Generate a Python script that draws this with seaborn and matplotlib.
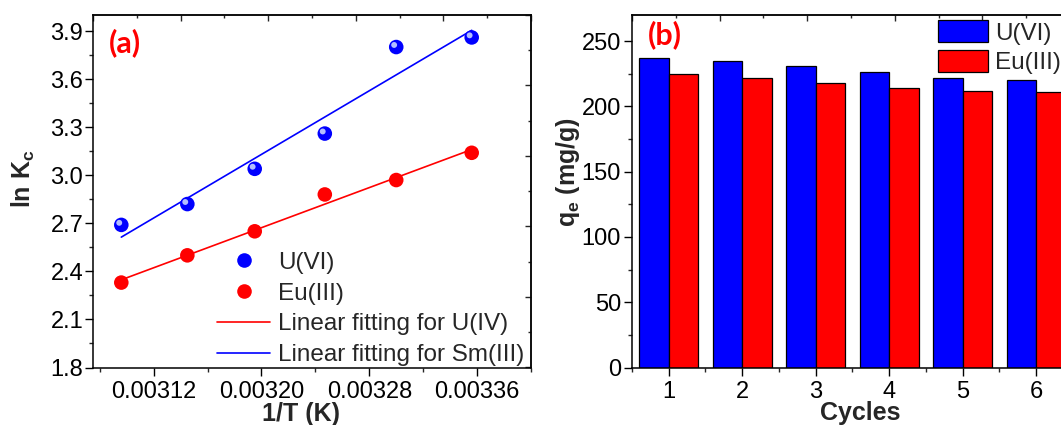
import numpy as np
import pandas as pd
import matplotlib
matplotlib.use("Agg")
import matplotlib.pyplot as plt
import seaborn as sns
from matplotlib.ticker import MultipleLocator, FixedLocator, FormatStrFormatter, NullFormatter
from matplotlib.lines import Line2D
from matplotlib.transforms import offset_copy

# ---------------- data ----------------
inv_T = [0.003096, 0.003145, 0.003195, 0.003247, 0.003300, 0.003356]
lnKc_U = [2.69, 2.82, 3.04, 3.26, 3.80, 3.86]
lnKc_Eu = [2.33, 2.50, 2.65, 2.88, 2.97, 3.14]

cycles = ["1", "2", "3", "4", "5", "6"]
qe_U = [237, 235, 231, 226, 222, 220]
qe_Eu = [225, 222, 218, 214, 212, 211]

series_names = ["U(VI)", "Eu(III)"]
fit_names = ["Linear fitting for U(IV)", "Linear fitting for Sm(III)"]
x_ticks_a = [0.00312, 0.00320, 0.00328, 0.00336]
y_ticks_a = [1.8, 2.1, 2.4, 2.7, 3.0, 3.3, 3.6, 3.9]
y_ticks_b = [0, 50, 100, 150, 200, 250]

BLUE = "#0000FF"
RED = "#FF0000"

# ---------------- style ----------------
sns.set_theme(style="ticks")
plt.rcParams["font.family"] = ["Liberation Sans", "DejaVu Sans"]
plt.rcParams["mathtext.fontset"] = "custom"
plt.rcParams["mathtext.rm"] = "Liberation Sans"
plt.rcParams["mathtext.bf"] = "Liberation Sans:bold"
plt.rcParams["axes.linewidth"] = 1.1

TICK_FS = 17
LAB_FS = 18
LEG_FS = 17.5

fig = plt.figure(figsize=(10.61, 4.25), dpi=100)
ax_a = fig.add_axes([93 / 1061, 57.5 / 425, 438 / 1061, 352.5 / 425])
ax_b = fig.add_axes([632 / 1061, 57.5 / 425, 438 / 1061, 352.5 / 425])

# ---------------- panel (a) ----------------
df_a = pd.DataFrame({
    "x": inv_T * 2,
    "y": lnKc_U + lnKc_Eu,
    "ion": [series_names[0]] * len(inv_T) + [series_names[1]] * len(inv_T),
})

sns.regplot(x=inv_T, y=lnKc_Eu, ax=ax_a, scatter=False, ci=None,
            line_kws=dict(color=RED, lw=1.2))
sns.regplot(x=inv_T, y=lnKc_U, ax=ax_a, scatter=False, ci=None,
            line_kws=dict(color=BLUE, lw=1.2))
sns.scatterplot(data=df_a, x="x", y="y", hue="ion", palette=[BLUE, RED],
                s=110, edgecolor="none", ax=ax_a, legend=False, zorder=3)
# sphere highlight on the U(VI) markers
hl = offset_copy(ax_a.transData, fig=fig, x=-1.5, y=1.5, units="points")
ax_a.scatter(inv_T, lnKc_U, s=18, color="#c8d4ff", edgecolor="none",
             transform=hl, zorder=4, alpha=0.9)

ax_a.set_xlim(0.003075, 0.0034)
ax_a.set_ylim(1.8, 4.0)
ax_a.xaxis.set_major_locator(FixedLocator(x_ticks_a))
ax_a.xaxis.set_minor_locator(MultipleLocator(0.00004))
ax_a.xaxis.set_major_formatter(FormatStrFormatter("%.5f"))
ax_a.yaxis.set_major_locator(FixedLocator(y_ticks_a))
ax_a.yaxis.set_minor_locator(MultipleLocator(0.15))
ax_a.yaxis.set_major_formatter(FormatStrFormatter("%.1f"))
ax_a.tick_params(axis="both", which="major", direction="out", length=5.5, width=1.0,
                 labelsize=TICK_FS, colors="black")
ax_a.tick_params(axis="both", which="minor", direction="out", length=3, width=1.0)
ax_a.tick_params(axis="x", which="major", pad=4)
ax_a.tick_params(axis="y", which="major", pad=1.5)
for s in ax_a.spines.values():
    s.set_visible(True)
    s.set_color("black")

ax_a.set_xlabel("1/T (K)", fontsize=LAB_FS, fontweight="bold")
ax_a.set_ylabel(r"ln K$_\mathbf{c}$", fontsize=LAB_FS, fontweight="bold")
ax_a.xaxis.set_label_coords(0.475, -0.132)
ax_a.xaxis.label.set_verticalalignment("center")
ax_a.yaxis.set_label_coords(-0.158, 0.537)
ax_a.yaxis.label.set_verticalalignment("center")

ax_a.text(0.073, 0.922, "(a)", transform=ax_a.transAxes, color=RED,
          fontsize=22, fontweight="bold", family="Lato", ha="center", va="center")

handles_a = [
    Line2D([], [], ls="none", marker="o", ms=10.5, mfc=BLUE, mec="none"),
    Line2D([], [], ls="none", marker="o", ms=10.5, mfc=RED, mec="none"),
    Line2D([], [], color=RED, lw=1.2),
    Line2D([], [], color=BLUE, lw=1.2),
]
ax_a.legend(handles_a, series_names + fit_names, loc="lower left",
            bbox_to_anchor=(0.283, 0.004), frameon=False, fontsize=LEG_FS,
            borderpad=0, borderaxespad=0, handlelength=2.2, handletextpad=0.3,
            labelspacing=0.36)


def fwd_a(x):
    return (x - 0.003075) / (0.0034 - 0.003075) * 10


def inv_a(t):
    return 0.003075 + t / 10 * (0.0034 - 0.003075)


top_a = ax_a.secondary_xaxis("top", functions=(fwd_a, inv_a))
top_a.xaxis.set_major_locator(MultipleLocator(2))
top_a.xaxis.set_minor_locator(MultipleLocator(1))
top_a.xaxis.set_major_formatter(NullFormatter())
top_a.tick_params(which="major", direction="in", length=4.5, width=1.0)
top_a.tick_params(which="minor", direction="in", length=2.5, width=1.0)


def fwd_ay(y):
    return (y - 1.8) / (4.0 - 1.8) * 10


def inv_ay(t):
    return 1.8 + t / 10 * (4.0 - 1.8)


right_a = ax_a.secondary_yaxis("right", functions=(fwd_ay, inv_ay))
right_a.yaxis.set_major_locator(MultipleLocator(2))
right_a.yaxis.set_minor_locator(MultipleLocator(1))
right_a.yaxis.set_major_formatter(NullFormatter())
right_a.tick_params(which="major", direction="in", length=4.5, width=1.0)
right_a.tick_params(which="minor", direction="in", length=2.5, width=1.0)

# ---------------- panel (b) ----------------
df_b = pd.DataFrame({
    "Cycle": cycles * 2,
    "qe": qe_U + qe_Eu,
    "Ion": [series_names[0]] * len(cycles) + [series_names[1]] * len(cycles),
})
sns.barplot(data=df_b, x="Cycle", y="qe", hue="Ion", palette=[BLUE, RED],
            saturation=1, width=0.8, gap=0, edgecolor="black", linewidth=0.9,
            ax=ax_b, errorbar=None)

XB0, XB1 = -0.5, 5.46
ax_b.set_xlim(XB0, XB1)
ax_b.set_ylim(0, 270)
ax_b.yaxis.set_major_locator(FixedLocator(y_ticks_b))
ax_b.yaxis.set_minor_locator(MultipleLocator(25))
ax_b.xaxis.set_minor_locator(MultipleLocator(0.5))
ax_b.tick_params(axis="both", which="major", direction="out", length=5.5, width=1.0,
                 labelsize=TICK_FS, colors="black")
ax_b.tick_params(axis="both", which="minor", direction="out", length=3, width=1.0)
ax_b.tick_params(axis="x", which="major", pad=4)
ax_b.tick_params(axis="y", which="major", pad=2.5)
for s in ax_b.spines.values():
    s.set_visible(True)
    s.set_color("black")

ax_b.set_xlabel("Cycles", fontsize=LAB_FS, fontweight="bold")
ax_b.set_ylabel(r"q$_\mathbf{e}$ (mg/g)", fontsize=LAB_FS, fontweight="bold")
ax_b.xaxis.set_label_coords(0.52, -0.128)
ax_b.xaxis.label.set_verticalalignment("center")
ax_b.yaxis.set_label_coords(-0.146, 0.554)
ax_b.yaxis.label.set_verticalalignment("center")

ax_b.text(0.075, 0.943, "(b)", transform=ax_b.transAxes, color=RED,
          fontsize=22, fontweight="bold", family="Lato", ha="center", va="center")

hb, lb = ax_b.get_legend_handles_labels()
ax_b.legend(hb, lb, loc="upper left", bbox_to_anchor=(0.699, 0.986), frameon=False,
            fontsize=LEG_FS, borderpad=0, borderaxespad=0, handlelength=2.05,
            handleheight=1.05, handletextpad=0.3, labelspacing=0.22)


def fwd_b(x):
    return (x - XB0) / (XB1 - XB0) * 10


def inv_b(t):
    return XB0 + t / 10 * (XB1 - XB0)


top_b = ax_b.secondary_xaxis("top", functions=(fwd_b, inv_b))
top_b.xaxis.set_major_locator(MultipleLocator(2))
top_b.xaxis.set_minor_locator(MultipleLocator(1))
top_b.xaxis.set_major_formatter(NullFormatter())
top_b.tick_params(which="major", direction="in", length=4.5, width=1.0)
top_b.tick_params(which="minor", direction="in", length=2.5, width=1.0)

fig.savefig("out.png", dpi=100)
